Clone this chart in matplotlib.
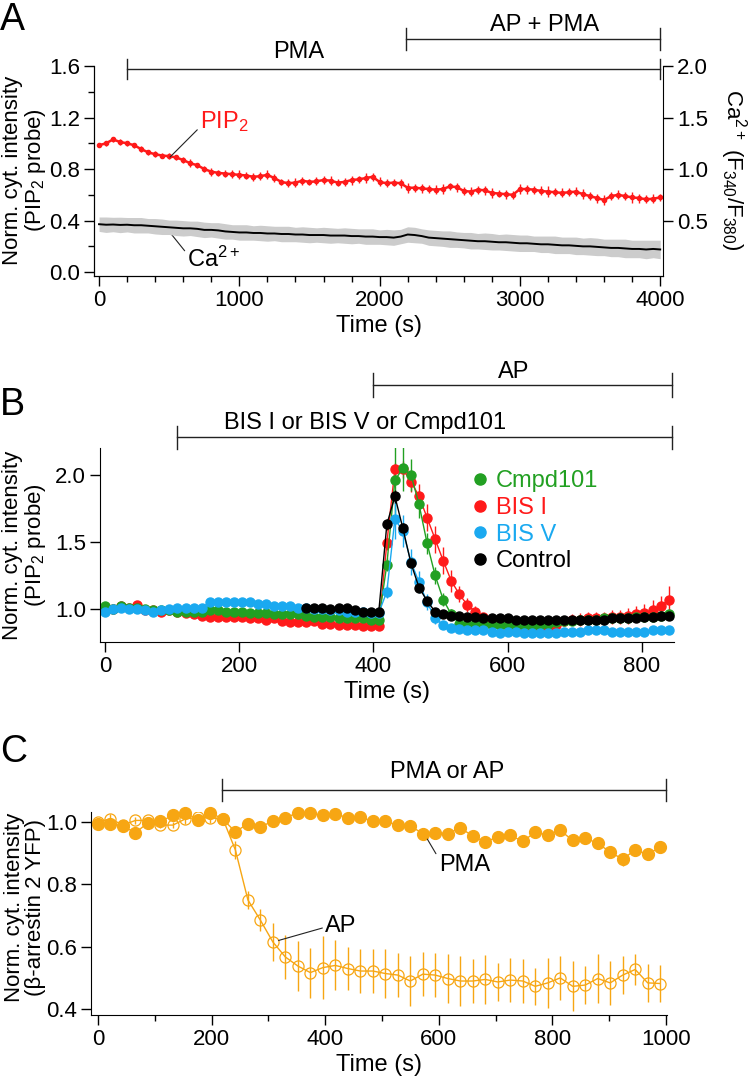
import numpy as np
import matplotlib
matplotlib.use("Agg")
import matplotlib.pyplot as plt
from matplotlib.ticker import MultipleLocator
from matplotlib.lines import Line2D

plt.rcParams['font.family'] = ['Liberation Sans', 'DejaVu Sans']
plt.rcParams['mathtext.fontset'] = 'custom'
plt.rcParams['mathtext.rm'] = 'Liberation Sans'
plt.rcParams['mathtext.default'] = 'regular'

# ---------------- Panel A data (sampled every 50 s) ----------------
time_a = np.arange(0, 4001, 50)
pip2 = [0.985, 1.00, 1.03, 1.01, 1.00, 0.985, 0.955, 0.93, 0.915, 0.905,
        0.90, 0.89, 0.87, 0.845, 0.83, 0.80, 0.78, 0.77, 0.765, 0.76,
        0.755, 0.75, 0.74, 0.745, 0.755, 0.73, 0.70, 0.69, 0.695, 0.71,
        0.70, 0.705, 0.715, 0.71, 0.695, 0.70, 0.715, 0.72, 0.73, 0.74,
        0.70, 0.69, 0.695, 0.69, 0.655, 0.655, 0.65, 0.645, 0.64, 0.645,
        0.665, 0.66, 0.63, 0.625, 0.64, 0.635, 0.615, 0.61, 0.605, 0.60,
        0.645, 0.645, 0.64, 0.63, 0.625, 0.62, 0.615, 0.62, 0.625, 0.605,
        0.59, 0.575, 0.56, 0.59, 0.60, 0.59, 0.58, 0.575, 0.565, 0.57,
        0.58]
pip2_err = [0.015, 0.02, 0.02, 0.025, 0.02, 0.02, 0.025, 0.02, 0.025, 0.02,
            0.025, 0.02, 0.025, 0.03, 0.02, 0.025, 0.03, 0.025, 0.03, 0.03,
            0.035, 0.025, 0.03, 0.03, 0.035, 0.03, 0.025, 0.03, 0.035, 0.03,
            0.025, 0.03, 0.03, 0.035, 0.03, 0.03, 0.035, 0.03, 0.04, 0.03,
            0.035, 0.03, 0.03, 0.035, 0.04, 0.03, 0.035, 0.03, 0.035, 0.04,
            0.03, 0.035, 0.03, 0.035, 0.03, 0.035, 0.04, 0.03, 0.035, 0.03,
            0.04, 0.035, 0.03, 0.035, 0.04, 0.03, 0.035, 0.03, 0.035, 0.04,
            0.03, 0.035, 0.04, 0.03, 0.035, 0.03, 0.04, 0.035, 0.03, 0.035,
            0.03]
ca_ratio = [0.465, 0.46, 0.462, 0.458, 0.46, 0.455, 0.455, 0.45, 0.445, 0.44,
            0.435, 0.43, 0.425, 0.425, 0.42, 0.41, 0.41, 0.405, 0.395, 0.39,
            0.385, 0.385, 0.38, 0.38, 0.375, 0.375, 0.37, 0.37, 0.365, 0.365,
            0.36, 0.36, 0.36, 0.355, 0.355, 0.355, 0.35, 0.35, 0.345, 0.345,
            0.34, 0.34, 0.335, 0.345, 0.365, 0.36, 0.35, 0.335, 0.33, 0.325,
            0.32, 0.315, 0.31, 0.305, 0.30, 0.30, 0.295, 0.29, 0.29, 0.285,
            0.28, 0.28, 0.275, 0.27, 0.27, 0.265, 0.26, 0.26, 0.255, 0.25,
            0.25, 0.245, 0.24, 0.235, 0.235, 0.23, 0.225, 0.225, 0.22, 0.225,
            0.22]
ca_sd = [0.07, 0.075, 0.07, 0.075, 0.07, 0.075, 0.075, 0.07, 0.075, 0.075,
         0.07, 0.075, 0.075, 0.07, 0.075, 0.075, 0.07, 0.075, 0.075, 0.07,
         0.075, 0.075, 0.07, 0.075, 0.075, 0.07, 0.075, 0.075, 0.07, 0.075,
         0.075, 0.07, 0.075, 0.075, 0.07, 0.075, 0.075, 0.07, 0.075, 0.075,
         0.07, 0.075, 0.075, 0.07, 0.075, 0.075, 0.07, 0.075, 0.075, 0.075,
         0.08, 0.075, 0.075, 0.08, 0.075, 0.08, 0.08, 0.075, 0.08, 0.08,
         0.08, 0.08, 0.075, 0.08, 0.08, 0.085, 0.08, 0.08, 0.085, 0.08,
         0.085, 0.085, 0.08, 0.085, 0.085, 0.09, 0.085, 0.085, 0.09, 0.085,
         0.09]

# ---------------- Panel B data (sampled every 12 s) ----------------
time_b = np.arange(0, 841, 12)
cmpd101 = [1.02, 1.00, 1.02, 1.01, 1.01, 1.00, 0.99, 0.99, 0.99, 0.98,
           0.98, 0.98, 0.98, 0.99, 0.99, 0.98, 0.98, 0.98, 0.97, 0.97,
           0.97, 0.96, 0.96, 0.96, 0.96, 0.95, 0.94, 0.94, 0.94, 0.93,
           0.93, 0.93, 0.93, 0.92, 0.92, 1.33, 1.96, 2.05, 2.00, 1.78,
           1.49, 1.25, 1.07, 0.96, 0.89, 0.88, 0.89, 0.89, 0.88, 0.88,
           0.88, 0.88, 0.88, 0.87, 0.88, 0.89, 0.90, 0.91, 0.91, 0.92,
           0.92, 0.92, 0.93, 0.93, 0.93, 0.93, 0.94, 0.94, 0.94, 0.95,
           0.96]
cmpd101_err = [0.015, 0.015, 0.015, 0.015, 0.015, 0.015, 0.015, 0.015, 0.015, 0.015,
               0.015, 0.015, 0.015, 0.015, 0.015, 0.015, 0.015, 0.015, 0.015, 0.015,
               0.015, 0.015, 0.015, 0.015, 0.015, 0.015, 0.015, 0.015, 0.015, 0.015,
               0.015, 0.015, 0.015, 0.015, 0.015, 0.05, 0.25, 0.17, 0.12, 0.10,
               0.08, 0.06, 0.05, 0.04, 0.03, 0.03, 0.03, 0.03, 0.03, 0.03,
               0.03, 0.03, 0.03, 0.03, 0.03, 0.03, 0.03, 0.03, 0.03, 0.03,
               0.03, 0.03, 0.03, 0.03, 0.03, 0.03, 0.03, 0.03, 0.03, 0.03,
               0.03]
bis1 = [1.00, 1.00, 1.02, 1.01, 1.03, 0.99, 0.99, 0.98, 0.99, 0.98,
        0.97, 0.96, 0.95, 0.94, 0.94, 0.94, 0.94, 0.94, 0.93, 0.93,
        0.92, 0.93, 0.91, 0.90, 0.90, 0.90, 0.91, 0.89, 0.89, 0.88,
        0.88, 0.88, 0.87, 0.87, 0.87, 1.49, 2.04, 2.04, 1.95, 1.84,
        1.68, 1.52, 1.36, 1.21, 1.11, 1.03, 0.98, 0.94, 0.90, 0.89,
        0.87, 0.86, 0.84, 0.85, 0.84, 0.85, 0.88, 0.91, 0.92, 0.92,
        0.93, 0.93, 0.93, 0.94, 0.94, 0.95, 0.96, 0.97, 0.99, 1.02,
        1.07]
bis1_err = [0.015, 0.015, 0.015, 0.015, 0.015, 0.015, 0.015, 0.015, 0.015, 0.015,
            0.015, 0.015, 0.015, 0.015, 0.015, 0.015, 0.015, 0.015, 0.015, 0.015,
            0.015, 0.015, 0.015, 0.015, 0.015, 0.015, 0.015, 0.015, 0.015, 0.015,
            0.015, 0.015, 0.015, 0.015, 0.015, 0.05, 0.05, 0.06, 0.08, 0.09,
            0.10, 0.10, 0.10, 0.08, 0.06, 0.05, 0.04, 0.03, 0.03, 0.03,
            0.03, 0.03, 0.03, 0.03, 0.03, 0.03, 0.03, 0.04, 0.04, 0.05,
            0.05, 0.05, 0.05, 0.05, 0.05, 0.06, 0.06, 0.07, 0.08, 0.08,
            0.10]
bis5 = [0.98, 1.00, 1.01, 1.00, 1.00, 0.99, 0.98, 0.99, 1.00, 1.01,
        1.01, 1.01, 1.01, 1.05, 1.05, 1.05, 1.05, 1.05, 1.05, 1.04,
        1.04, 1.02, 1.02, 1.02, 1.01, 1.01, 1.00, 1.00, 0.99, 0.99,
        0.98, 0.98, 0.98, 0.97, 0.97, 1.13, 1.67, 1.58, 1.35, 1.20,
        1.05, 0.93, 0.88, 0.86, 0.85, 0.84, 0.84, 0.84, 0.83, 0.82,
        0.83, 0.83, 0.82, 0.82, 0.82, 0.82, 0.82, 0.83, 0.83, 0.83,
        0.84, 0.84, 0.84, 0.83, 0.83, 0.83, 0.83, 0.83, 0.84, 0.84,
        0.84]
bis5_err = [0.025, 0.025, 0.025, 0.025, 0.025, 0.025, 0.025, 0.025, 0.025, 0.025,
            0.025, 0.025, 0.025, 0.03, 0.03, 0.03, 0.03, 0.03, 0.03, 0.03,
            0.03, 0.03, 0.03, 0.03, 0.03, 0.03, 0.03, 0.03, 0.03, 0.03,
            0.03, 0.03, 0.03, 0.03, 0.03, 0.05, 0.15, 0.12, 0.10, 0.08,
            0.06, 0.04, 0.03, 0.025, 0.025, 0.025, 0.025, 0.025, 0.025, 0.025,
            0.025, 0.025, 0.025, 0.025, 0.025, 0.025, 0.025, 0.025, 0.025, 0.025,
            0.025, 0.025, 0.025, 0.025, 0.025, 0.025, 0.025, 0.025, 0.025, 0.025,
            0.025]
time_ctrl = np.arange(300, 841, 12)
control = [1.01, 1.01, 1.01, 1.00, 1.01, 1.01, 0.99, 0.98, 0.98, 0.98,
           1.63, 1.84, 1.60, 1.34, 1.16, 1.06, 0.98, 0.96, 0.95, 0.95,
           0.94, 0.94, 0.93, 0.93, 0.93, 0.93, 0.92, 0.92, 0.92, 0.92,
           0.92, 0.92, 0.92, 0.92, 0.92, 0.92, 0.92, 0.92, 0.93, 0.93,
           0.93, 0.93, 0.94, 0.94, 0.95, 0.95]
control_err = [0.015, 0.015, 0.015, 0.015, 0.015, 0.015, 0.015, 0.015, 0.015, 0.015,
               0.04, 0.05, 0.04, 0.03, 0.03, 0.02, 0.02, 0.015, 0.015, 0.015,
               0.015, 0.015, 0.015, 0.015, 0.015, 0.015, 0.015, 0.015, 0.015, 0.015,
               0.015, 0.015, 0.015, 0.015, 0.015, 0.015, 0.015, 0.015, 0.015, 0.015,
               0.015, 0.015, 0.015, 0.015, 0.015, 0.015]

# ---------------- Panel C data (sampled every 22 s) ----------------
time_c = np.arange(0, 991, 22)
pma = [0.995, 0.995, 0.986, 0.966, 0.997, 1.002, 1.021, 1.03, 1.007, 1.03,
       1.009, 0.968, 0.995, 0.984, 1.003, 1.013, 1.03, 1.028, 1.021, 1.025,
       1.014, 1.015, 1.003, 1.002, 0.99, 0.987, 0.963, 0.965, 0.963, 0.981,
       0.955, 0.936, 0.952, 0.957, 0.938, 0.967, 0.958, 0.973, 0.941, 0.949,
       0.931, 0.904, 0.88, 0.911, 0.896, 0.92]
pma_err = [0.01, 0.01, 0.01, 0.012, 0.01, 0.01, 0.012, 0.01, 0.01, 0.012,
           0.01, 0.012, 0.01, 0.02, 0.02, 0.01, 0.015, 0.01, 0.01, 0.01,
           0.01, 0.01, 0.01, 0.01, 0.01, 0.01, 0.01, 0.01, 0.015, 0.02,
           0.01, 0.01, 0.01, 0.01, 0.01, 0.015, 0.01, 0.01, 0.01, 0.01,
           0.01, 0.012, 0.02, 0.01, 0.012, 0.015]
ap = [1.00, 1.01, 0.99, 1.005, 1.005, 0.99, 0.99, 1.01, 1.015, 1.013,
      1.01, 0.91, 0.75, 0.685, 0.615, 0.567, 0.538, 0.517, 0.533, 0.54,
      0.53, 0.522, 0.522, 0.514, 0.509, 0.49, 0.512, 0.509, 0.498, 0.49,
      0.49, 0.495, 0.487, 0.493, 0.49, 0.473, 0.484, 0.50, 0.473, 0.477,
      0.498, 0.484, 0.509, 0.527, 0.484, 0.482]
ap_err = [0.012, 0.015, 0.01, 0.012, 0.012, 0.01, 0.01, 0.015, 0.012, 0.015,
          0.012, 0.03, 0.03, 0.035, 0.06, 0.07, 0.08, 0.08, 0.10, 0.08,
          0.07, 0.07, 0.07, 0.08, 0.07, 0.08, 0.07, 0.07, 0.08, 0.08,
          0.07, 0.08, 0.06, 0.07, 0.07, 0.06, 0.08, 0.07, 0.08, 0.06,
          0.08, 0.07, 0.06, 0.05, 0.06, 0.06]

RED = '#ff1a1a'
GREEN = '#22a022'
BLUE = '#1aa9f0'
ORANGE = '#f7a613'
TICK_FS = 16
LABEL_FS = 16
TEXT_FS = 17

W, H = 751, 1080
fig = plt.figure(figsize=(W / 100, H / 100), dpi=100)


def axes_px(left, top, right, bottom):
    return fig.add_axes([left / W, 1 - bottom / H, (right - left) / W, (bottom - top) / H])


def style(ax):
    ax.spines['top'].set_visible(False)
    ax.spines['right'].set_visible(False)
    ax.tick_params(which='major', direction='out', length=7, width=1, labelsize=TICK_FS, pad=3)
    ax.tick_params(which='minor', direction='out', length=4, width=1)


def bracket(ax, x0, x1, y, h):
    kw = dict(color='#222222', lw=1, clip_on=False)
    ax.plot([x0, x1], [y, y], **kw)
    ax.plot([x0, x0], [y - h, y + h], **kw)
    ax.plot([x1, x1], [y - h, y + h], **kw)


# ================= Panel A =================
axA = axes_px(94, 66, 663, 276)
axA2 = axA.twinx()
style(axA)
axA2.spines['top'].set_visible(False)
axA2.tick_params(which='major', direction='out', length=7, width=1, labelsize=TICK_FS, pad=3)

axA2.fill_between(time_a, np.array(ca_ratio) - np.array(ca_sd), np.array(ca_ratio) + np.array(ca_sd),
                  color='#cccccc', lw=0)
axA2.plot(time_a, ca_ratio, color='k', lw=1.4)
axA.errorbar(time_a, pip2, yerr=pip2_err, color=RED, lw=1.8, marker='o', ms=3,
             elinewidth=1, capsize=0)

axA.set_xlim(-36, 4020)
axA.set_ylim(-0.03, 1.6)
axA2.set_ylim(-0.0375, 2.0)
axA.xaxis.set_major_locator(MultipleLocator(1000))
axA.xaxis.set_minor_locator(MultipleLocator(200))
axA.yaxis.set_major_locator(MultipleLocator(0.4))
axA.yaxis.set_minor_locator(MultipleLocator(0.2))
axA2.set_yticks([0.5, 1.0, 1.5, 2.0])
axA.set_xlabel('Time (s)', fontsize=TEXT_FS, labelpad=3)

bracket(axA, 200, 4000, 1.577, 0.08)
bracket(axA, 2185, 4000, 1.81, 0.085)
axA.text(1425, 1.71, 'PMA', ha='center', va='center', fontsize=TEXT_FS)
axA.text(3176, 1.92, 'AP + PMA', ha='center', va='center', fontsize=TEXT_FS)
axA.annotate('PIP$_2$', xy=(506, 0.893), xytext=(720, 1.165), color=RED, fontsize=TEXT_FS,
             ha='left', va='center',
             arrowprops=dict(arrowstyle='-', color='#222222', lw=0.8, shrinkA=0, shrinkB=0,
                             relpos=(0, 0.3)))
axA.annotate('Ca$^{2+}$', xy=(492, 0.326), xytext=(630, 0.1), color='k', fontsize=TEXT_FS,
             ha='left', va='center',
             arrowprops=dict(arrowstyle='-', color='#222222', lw=0.8, shrinkA=0, shrinkB=0,
                             relpos=(0, 0.7)))

fig.text(25 / W, 1 - 170 / H, 'Norm. cyt. intensity\n(PIP$_2$ probe)', rotation=90,
         ha='center', va='center', fontsize=LABEL_FS, linespacing=0.95)
fig.text(733 / W, 1 - 170 / H, 'Ca$^{2+}$ (F$_{340}$/F$_{380}$)', rotation=270,
         ha='center', va='center', fontsize=LABEL_FS)
fig.text(0 / W, 1 - 20 / H, 'A', ha='left', va='center', fontsize=27)

# ================= Panel B =================
axB = axes_px(100, 448, 674, 642)
style(axB)
ebkw = dict(lw=1, marker='o', ms=6.5, elinewidth=1, capsize=0)
axB.errorbar(time_b, bis1, yerr=bis1_err, color=RED, **ebkw)
axB.errorbar(time_b, cmpd101, yerr=cmpd101_err, color=GREEN, **ebkw)
axB.errorbar(time_b, bis5, yerr=bis5_err, color=BLUE, **ebkw)
axB.errorbar(time_ctrl, control, yerr=control_err, color='k', **ebkw)

axB.set_xlim(-7.5, 848)
axB.set_ylim(0.754, 2.2)
axB.xaxis.set_major_locator(MultipleLocator(200))
axB.set_yticks([1.0, 1.5, 2.0])
axB.set_xlabel('Time (s)', fontsize=TEXT_FS, labelpad=3)

bracket(axB, 400, 845, 2.67, 0.09)
bracket(axB, 107, 845, 2.28, 0.085)
axB.text(609, 2.77, 'AP', ha='center', va='center', fontsize=TEXT_FS)
axB.text(387, 2.39, 'BIS I or BIS V or Cmpd101', ha='center', va='center', fontsize=TEXT_FS)

legend_names = ['Cmpd101', 'BIS I', 'BIS V', 'Control']
legend_colors = [GREEN, RED, BLUE, 'k']
handles = [Line2D([], [], ls='none', marker='o', ms=8, color=c) for c in legend_colors]
axB.legend(handles, legend_names, loc='upper left', bbox_to_anchor=(0.645, 0.885),
           frameon=False, fontsize=TEXT_FS, labelcolor='linecolor', handlelength=0.8,
           handletextpad=0.3, labelspacing=0.2, borderpad=0, borderaxespad=0)

fig.text(25 / W, 1 - 545 / H, 'Norm. cyt. intensity\n(PIP$_2$ probe)', rotation=90,
         ha='center', va='center', fontsize=LABEL_FS, linespacing=0.95)
fig.text(0 / W, 1 - 405 / H, 'B', ha='left', va='center', fontsize=27)

# ================= Panel C =================
axC = axes_px(91, 812, 667, 1015)
style(axC)
axC.errorbar(time_c, ap, yerr=ap_err, color=ORANGE, lw=1, marker='o', ms=8,
             mfc='none', mec=ORANGE, mew=0.9, elinewidth=1, capsize=0)
pma_bars = axC.errorbar(time_c, pma, yerr=pma_err, color=ORANGE, lw=1, marker='o', ms=8.5,
                        elinewidth=1, capsize=0)
for artist in pma_bars.lines[0:1] + tuple(pma_bars.lines[2]):
    artist.set_clip_on(False)

axC.set_xlim(-12.3, 1002)
axC.set_ylim(0.381, 1.032)
axC.xaxis.set_major_locator(MultipleLocator(200))
axC.xaxis.set_minor_locator(MultipleLocator(100))
axC.yaxis.set_major_locator(MultipleLocator(0.2))
axC.set_xlabel('Time (s)', fontsize=TEXT_FS, labelpad=3)

bracket(axC, 219, 1000, 1.103, 0.035)
axC.text(615, 1.16, 'PMA or AP', ha='center', va='center', fontsize=TEXT_FS)
axC.annotate('PMA', xy=(580, 0.945), xytext=(600, 0.862), fontsize=TEXT_FS, ha='left', va='center',
             arrowprops=dict(arrowstyle='-', color='#222222', lw=0.8, shrinkA=0, shrinkB=0,
                             relpos=(0, 0.8)))
axC.annotate('AP', xy=(318, 0.62), xytext=(400, 0.666), fontsize=TEXT_FS, ha='left', va='center',
             arrowprops=dict(arrowstyle='-', color='#222222', lw=0.8, shrinkA=0, shrinkB=0,
                             relpos=(0, 0.45)))

fig.text(25 / W, 1 - 907 / H, 'Norm. cyt. intensity\n(\u03b2-arrestin 2 YFP)', rotation=90,
         ha='center', va='center', fontsize=LABEL_FS, linespacing=0.95)
fig.text(0 / W, 1 - 752 / H, 'C', ha='left', va='center', fontsize=27)

fig.savefig('out.png', dpi=100)
